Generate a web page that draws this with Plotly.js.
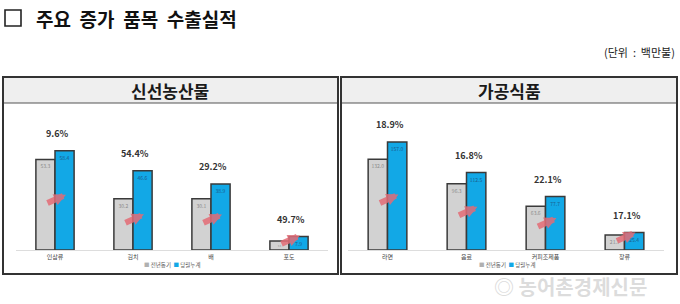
<!DOCTYPE html>
<html>
<head>
<meta charset="utf-8">
<script src="https://cdn.plot.ly/plotly-3.0.1.min.js"></script>
<style>
html,body{margin:0;padding:0;background:#fff;}
#chart{width:680px;height:304px;}
</style>
</head>
<body>
<div id="chart"></div>
<script>
// ---- data ----
const freshCats = ['인삼류', '김치', '배', '포도'];
const freshPrev = [53.3, 30.2, 30.1, 5.3];
const freshCurr = [58.4, 46.6, 38.9, 7.9];
const freshGrowth = ['9.6%', '54.4%', '29.2%', '49.7%'];

const procCats = ['라면', '음료', '커피조제품', '장류'];
const procPrev = [132.0, 96.3, 63.6, 21.7];
const procCurr = [157.0, 112.5, 77.7, 25.4];
const procGrowth = ['18.9%', '16.8%', '22.1%', '17.1%'];

const seriesNames = ['전년동기', '당월누계'];

// ---- style ----
const W = 680, H = 304;
const px = x => x / W;
const py = y => 1 - y / H;
const FONT = '"Noto Sans CJK KR", "Noto Sans", sans-serif';
const GRAY = '#d2d2d2', BLUE = '#12a8e6';
const LINE = '#3a3a3a';

function barTrace(cats, vals, name, color, xa, ya, textColor) {
  return {
    type: 'bar', x: cats, y: vals, name: name, xaxis: xa, yaxis: ya,
    marker: {color: color, line: {color: LINE, width: 1.5}},
    texttemplate: '%{y:.1f}', textposition: 'inside', insidetextanchor: 'end',
    textangle: 0, textfont: {size: 5, color: textColor, family: FONT},
    showlegend: false, hoverinfo: 'x+y'
  };
}

const data = [
  barTrace(freshCats, freshPrev, seriesNames[0], GRAY, 'x', 'y', '#8a8a8a'),
  barTrace(freshCats, freshCurr, seriesNames[1], BLUE, 'x', 'y', '#1b5c8c'),
  barTrace(procCats, procPrev, seriesNames[0], GRAY, 'x2', 'y2', '#8a8a8a'),
  barTrace(procCats, procCurr, seriesNames[1], BLUE, 'x2', 'y2', '#1b5c8c')
];

const annotations = [];
function addPanelAnnots(cats, prev, curr, growth, xr, yr) {
  cats.forEach((c, i) => {
    annotations.push({
      x: c, y: curr[i], xref: xr, yref: yr, text: '<b>' + growth[i] + '</b>',
      showarrow: false, yanchor: 'middle', yshift: 17, xshift: 2,
      font: {size: 9, color: '#333', family: FONT}
    });
    annotations.push({
      x: c, y: prev[i] * 0.5, xref: xr, yref: yr, text: '',
      showarrow: true, arrowhead: 2, arrowsize: 0.4, arrowwidth: 6,
      arrowcolor: 'rgba(228,108,118,0.85)', ax: -20, ay: 9, xshift: 11, yshift: 10,
      standoff: 0, startstandoff: 0
    });
  });
}
addPanelAnnots(freshCats, freshPrev, freshCurr, freshGrowth, 'x', 'y');
addPanelAnnots(procCats, procPrev, procCurr, procGrowth, 'x2', 'y2');

function legendText() {
  return '<span style="color:#b0b0b0">■</span> ' + seriesNames[0] +
         '  <span style="color:' + BLUE + '">■</span> ' + seriesNames[1];
}
// static texts
annotations.push(
  {xref: 'paper', yref: 'paper', x: px(34), y: py(18), xanchor: 'left', yanchor: 'middle',
   text: '<b>주요\u00a0 증가\u00a0 품목\u00a0 수출실적</b>', showarrow: false,
   font: {size: 19, color: '#111', family: FONT}},
  {xref: 'paper', yref: 'paper', x: px(677), y: py(52), xanchor: 'right', yanchor: 'middle',
   text: '(단위\u00a0 :\u00a0 백만불)', showarrow: false,
   font: {size: 11, color: '#222', family: FONT}},
  {xref: 'paper', yref: 'paper', x: px(170), y: py(90), xanchor: 'center', yanchor: 'middle',
   text: '<b>신선농산물</b>', showarrow: false, font: {size: 17, color: '#1a1a1a', family: FONT}},
  {xref: 'paper', yref: 'paper', x: px(509), y: py(90), xanchor: 'center', yanchor: 'middle',
   text: '<b>가공식품</b>', showarrow: false, font: {size: 17, color: '#1a1a1a', family: FONT}},
  {xref: 'paper', yref: 'paper', x: px(172), y: py(265), xanchor: 'center', yanchor: 'middle',
   text: legendText(), showarrow: false, font: {size: 5.5, color: '#555', family: FONT}},
  {xref: 'paper', yref: 'paper', x: px(507), y: py(265), xanchor: 'center', yanchor: 'middle',
   text: legendText(), showarrow: false, font: {size: 5.5, color: '#555', family: FONT}},
  {xref: 'paper', yref: 'paper', x: px(570), y: py(286), xanchor: 'center', yanchor: 'middle',
   text: '<b>◎ 농어촌경제신문</b>', showarrow: false,
   font: {size: 20, color: 'rgba(185,185,185,0.5)', family: FONT}}
);

const shapes = [
  // title checkbox
  {type: 'rect', xref: 'paper', yref: 'paper', x0: px(5), x1: px(21), y0: py(10), y1: py(26),
   fillcolor: 'rgba(0,0,0,0)', line: {color: '#222', width: 1.6}},
  // left box
  {type: 'rect', xref: 'paper', yref: 'paper', x0: px(3), x1: px(338), y0: py(77), y1: py(103),
   fillcolor: '#efefef', line: {color: '#555', width: 1.2}, layer: 'below'},
  {type: 'rect', xref: 'paper', yref: 'paper', x0: px(3), x1: px(338), y0: py(77), y1: py(274),
   fillcolor: 'rgba(0,0,0,0)', line: {color: '#333', width: 2}},
  // right box
  {type: 'rect', xref: 'paper', yref: 'paper', x0: px(341), x1: px(677), y0: py(77), y1: py(103),
   fillcolor: '#efefef', line: {color: '#555', width: 1.2}, layer: 'below'},
  {type: 'rect', xref: 'paper', yref: 'paper', x0: px(341), x1: px(677), y0: py(77), y1: py(274),
   fillcolor: 'rgba(0,0,0,0)', line: {color: '#333', width: 2}}
];

const yDom = [py(250), py(110)];
const axX = dom => ({
  domain: dom, showgrid: false, zeroline: false, showline: true, linecolor: '#dddddd', linewidth: 1,
  ticks: '', tickfont: {size: 6, color: '#444', family: FONT}, fixedrange: true, ticklabelstandoff: 1
});
const axY = (range, anchor) => ({
  domain: yDom, range: range, visible: false, fixedrange: true, anchor: anchor
});

const layout = {
  width: W, height: H,
  margin: {l: 0, r: 0, t: 0, b: 0},
  paper_bgcolor: '#fff', plot_bgcolor: 'rgba(0,0,0,0)',
  barmode: 'group', bargap: 0.51, bargroupgap: 0,
  xaxis: Object.assign(axX([px(16), px(328)]), {anchor: 'y'}),
  yaxis: axY([0, 82.4], 'x'),
  xaxis2: Object.assign(axX([px(348), px(664)]), {anchor: 'y2'}),
  yaxis2: axY([0, 203.5], 'x2'),
  annotations: annotations,
  shapes: shapes,
  font: {family: FONT}
};

Plotly.newPlot('chart', data, layout, {displayModeBar: false, staticPlot: true});
</script>
</body>
</html>
